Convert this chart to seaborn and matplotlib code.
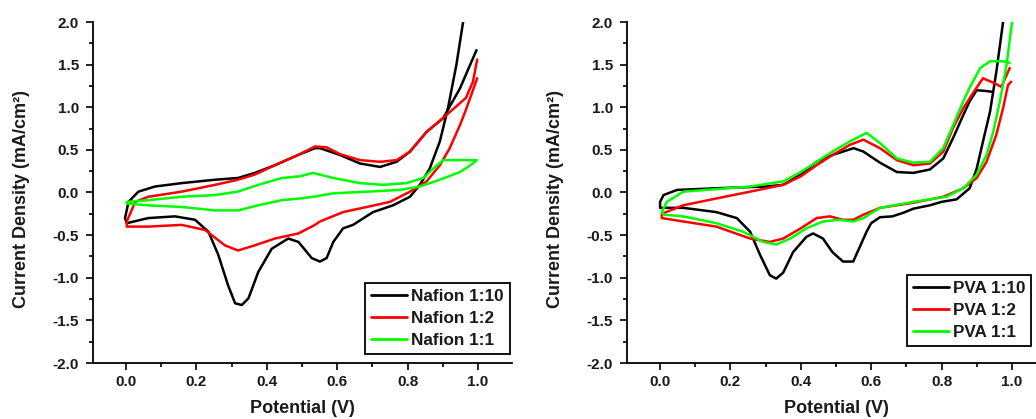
import matplotlib
matplotlib.use("Agg")
import matplotlib.pyplot as plt
from matplotlib.lines import Line2D
from matplotlib.ticker import MultipleLocator, FormatStrFormatter
import seaborn as sns
import pandas as pd

# ---------------- data ----------------
nafion_labels = ["Nafion 1:10", "Nafion 1:2", "Nafion 1:1"]
pva_labels = ["PVA 1:10", "PVA 1:2", "PVA 1:1"]
series_colors = ["#000000", "#ff0000", "#00ff00"]

nafion_1_10_v = [0.962, 0.958, 0.939, 0.915, 0.892, 0.863, 0.835, 0.807, 0.759, 0.702, 0.645, 0.617, 0.589, 0.570,
                 0.551, 0.528, 0.490, 0.461, 0.414, 0.376, 0.348, 0.329, 0.310, 0.290, 0.262, 0.234, 0.196, 0.139,
                 0.063, 0.002, -0.003, 0.007, 0.035, 0.082, 0.158, 0.253, 0.318, 0.366, 0.423, 0.489, 0.537, 0.551,
                 0.608, 0.665, 0.722, 0.769, 0.807, 0.854, 0.901, 0.949, 0.996]
nafion_1_10_j = [2.10, 2.00, 1.50, 0.99, 0.60, 0.28, 0.09, -0.05, -0.15, -0.23, -0.38, -0.42, -0.58, -0.77,
                 -0.81, -0.77, -0.58, -0.54, -0.66, -0.93, -1.24, -1.32, -1.30, -1.09, -0.73, -0.46, -0.32, -0.28,
                 -0.30, -0.36, -0.30, -0.11, 0.01, 0.07, 0.11, 0.15, 0.17, 0.23, 0.32, 0.44, 0.52, 0.52,
                 0.44, 0.34, 0.30, 0.36, 0.48, 0.71, 0.87, 1.22, 1.67]

nafion_1_2_v = [0.998, 0.986, 0.966, 0.949, 0.920, 0.892, 0.854, 0.807, 0.750, 0.684, 0.617, 0.551, 0.537, 0.490,
                0.423, 0.366, 0.318, 0.281, 0.225, 0.158, 0.063, 0.002, 0.002, 0.026, 0.063, 0.158, 0.253, 0.318,
                0.366, 0.423, 0.489, 0.537, 0.570, 0.608, 0.665, 0.722, 0.769, 0.807, 0.854, 0.911, 0.966, 0.986,
                0.998]
nafion_1_2_j = [1.34, 1.20, 0.97, 0.79, 0.52, 0.32, 0.13, 0.01, -0.11, -0.17, -0.23, -0.34, -0.38, -0.48,
                -0.54, -0.62, -0.68, -0.62, -0.44, -0.38, -0.40, -0.40, -0.34, -0.11, -0.05, 0.01, 0.09, 0.15,
                0.21, 0.32, 0.44, 0.54, 0.53, 0.45, 0.38, 0.36, 0.38, 0.48, 0.71, 0.91, 1.11, 1.30,
                1.56]

nafion_1_1_v = [0.996, 0.986, 0.949, 0.892, 0.835, 0.778, 0.684, 0.589, 0.532, 0.494, 0.443, 0.376, 0.318, 0.253,
                0.158, 0.063, 0.002, 0.002, 0.063, 0.158, 0.253, 0.318, 0.376, 0.443, 0.494, 0.532, 0.589, 0.665,
                0.731, 0.797, 0.845, 0.873, 0.901, 0.939, 0.996]
nafion_1_1_j = [0.38, 0.34, 0.24, 0.15, 0.07, 0.03, 0.01, -0.01, -0.05, -0.07, -0.09, -0.15, -0.21, -0.21,
                -0.17, -0.15, -0.13, -0.11, -0.09, -0.05, -0.03, 0.01, 0.09, 0.17, 0.19, 0.23, 0.17, 0.11,
                0.09, 0.11, 0.17, 0.28, 0.38, 0.38, 0.38]

pva_1_10_v = [0.980, 0.975, 0.956, 0.938, 0.918, 0.900, 0.880, 0.843, 0.800, 0.767, 0.720, 0.690, 0.660, 0.625,
              0.600, 0.587, 0.549, 0.520, 0.490, 0.463, 0.435, 0.416, 0.378, 0.350, 0.330, 0.312, 0.284, 0.256,
              0.218, 0.160, 0.066, 0.000, 0.000, 0.010, 0.048, 0.160, 0.300, 0.350, 0.400, 0.445, 0.490, 0.550,
              0.578, 0.625, 0.673, 0.720, 0.767, 0.805, 0.833, 0.862, 0.880, 0.900, 0.928, 0.946]
pva_1_10_j = [2.15, 2.00, 1.42, 0.95, 0.60, 0.28, 0.05, -0.08, -0.11, -0.15, -0.19, -0.24, -0.28, -0.29,
              -0.36, -0.46, -0.81, -0.81, -0.70, -0.54, -0.48, -0.52, -0.70, -0.94, -1.01, -0.97, -0.73, -0.46,
              -0.30, -0.23, -0.18, -0.18, -0.11, -0.03, 0.03, 0.05, 0.07, 0.09, 0.21, 0.36, 0.44, 0.52,
              0.48, 0.35, 0.24, 0.23, 0.27, 0.40, 0.64, 0.91, 1.07, 1.20, 1.19, 1.18]

pva_1_2_v = [0.998, 0.989, 0.975, 0.956, 0.928, 0.900, 0.862, 0.805, 0.720, 0.625, 0.578, 0.549, 0.520, 0.483,
             0.445, 0.400, 0.350, 0.312, 0.256, 0.160, 0.066, 0.005, 0.005, 0.066, 0.160, 0.256, 0.350, 0.400,
             0.445, 0.490, 0.540, 0.578, 0.625, 0.673, 0.720, 0.767, 0.805, 0.833, 0.862, 0.890, 0.918, 0.946,
             0.970, 0.994]
pva_1_2_j = [1.30, 1.26, 0.99, 0.68, 0.36, 0.17, 0.05, -0.05, -0.12, -0.18, -0.26, -0.32, -0.32, -0.28,
             -0.30, -0.42, -0.54, -0.58, -0.54, -0.40, -0.34, -0.30, -0.25, -0.15, -0.07, 0.01, 0.09, 0.19,
             0.32, 0.44, 0.56, 0.62, 0.52, 0.38, 0.32, 0.34, 0.48, 0.76, 0.99, 1.17, 1.34, 1.29,
             1.24, 1.46]

pva_1_1_v = [1.002, 0.985, 0.966, 0.947, 0.928, 0.900, 0.862, 0.814, 0.720, 0.625, 0.578, 0.549, 0.510, 0.463,
             0.416, 0.370, 0.330, 0.293, 0.236, 0.160, 0.066, 0.010, 0.005, 0.019, 0.066, 0.256, 0.350, 0.400,
             0.445, 0.490, 0.540, 0.587, 0.625, 0.673, 0.720, 0.767, 0.805, 0.833, 0.862, 0.880, 0.910, 0.938,
             0.975, 0.994]
pva_1_1_j = [2.05, 1.50, 1.07, 0.71, 0.44, 0.21, 0.05, -0.05, -0.11, -0.18, -0.30, -0.34, -0.32, -0.34,
             -0.42, -0.54, -0.61, -0.58, -0.46, -0.36, -0.28, -0.26, -0.23, -0.11, 0.01, 0.07, 0.13, 0.24,
             0.36, 0.48, 0.60, 0.70, 0.58, 0.40, 0.35, 0.36, 0.52, 0.79, 1.07, 1.23, 1.46, 1.54,
             1.54, 1.52]

x_ticks_step = 0.2
y_ticks_step = 0.5


def build_frame(labels, vs, js):
    rows = []
    for lab, v, j in zip(labels, vs, js):
        for k, (a, b) in enumerate(zip(v, j)):
            rows.append({"Potential": a, "J": b, "Sample": lab, "idx": k})
    return pd.DataFrame(rows)


df_nafion = build_frame(nafion_labels, [nafion_1_10_v, nafion_1_2_v, nafion_1_1_v],
                        [nafion_1_10_j, nafion_1_2_j, nafion_1_1_j])
df_pva = build_frame(pva_labels, [pva_1_10_v, pva_1_2_v, pva_1_1_v],
                     [pva_1_10_j, pva_1_2_j, pva_1_1_j])

# ---------------- styling ----------------
sns.set_theme(style="ticks")
plt.rcParams["font.family"] = ["Liberation Sans", "DejaVu Sans"]
plt.rcParams["font.weight"] = "bold"
plt.rcParams["axes.labelweight"] = "bold"
plt.rcParams["axes.unicode_minus"] = False

W, H = 1036, 419
fig = plt.figure(figsize=(W / 100, H / 100), dpi=100)
fig.patch.set_facecolor("white")
ax1 = fig.add_axes([93 / W, 56 / H, 419 / W, 341 / H])
ax2 = fig.add_axes([627 / W, 56 / H, 419 / W, 341 / H])

panels = [
    (ax1, df_nafion, nafion_labels, dict(loc="lower right", bbox_to_anchor=(0.995, 0.026))),
    (ax2, df_pva, pva_labels, dict(loc="lower left", bbox_to_anchor=(0.668, 0.05))),
]

for ax, df, labels, leg_kw in panels:
    ax.set_facecolor("white")
    sns.lineplot(data=df, x="Potential", y="J", hue="Sample", hue_order=labels,
                 palette=series_colors, sort=False, estimator=None, linewidth=1.8,
                 ax=ax, legend=False)
    for ln in ax.lines:
        ln.set_solid_joinstyle("round")
        ln.set_solid_capstyle("round")
    ax.set_xlim(-0.094, 1.097)
    ax.set_ylim(-2.0, 2.0)
    ax.xaxis.set_major_locator(MultipleLocator(x_ticks_step))
    ax.xaxis.set_minor_locator(MultipleLocator(x_ticks_step / 2))
    ax.yaxis.set_major_locator(MultipleLocator(y_ticks_step))
    ax.yaxis.set_minor_locator(MultipleLocator(y_ticks_step / 2))
    ax.xaxis.set_major_formatter(FormatStrFormatter("%.1f"))
    ax.yaxis.set_major_formatter(FormatStrFormatter("%.1f"))
    sns.despine(ax=ax)
    for s in ("left", "bottom"):
        ax.spines[s].set_linewidth(1.3)
        ax.spines[s].set_color("black")
    ax.tick_params(which="major", direction="out", length=5, width=1.2, colors="black",
                   labelsize=11)
    ax.tick_params(which="minor", direction="out", length=3, width=1.2, colors="black")
    ax.tick_params(axis="y", which="major", pad=5)
    ax.tick_params(axis="x", which="major", pad=3.5)
    for lab in ax.get_xticklabels() + ax.get_yticklabels():
        lab.set_fontweight("bold")
        lab.set_color("#1a1a1a")
    ax.set_xlabel("Potential (V)", fontsize=13, fontweight="bold", color="#1a1a1a")
    ax.set_ylabel("Current Density (mA/cm²)", fontsize=13, fontweight="bold", color="#1a1a1a")
    ax.xaxis.set_label_coords(0.5, -0.108)
    ax.yaxis.set_label_coords(-0.15, 0.48)

    handles = [Line2D([], [], color=c, linewidth=2.0) for c in series_colors]
    leg = ax.legend(handles, labels, frameon=True, fancybox=False, framealpha=1,
                    edgecolor="black", fontsize=12.3, borderpad=0.35, labelspacing=0.42,
                    handlelength=2.1, handletextpad=0.25, borderaxespad=0.0, **leg_kw)
    leg.get_frame().set_linewidth(1.3)
    for t in leg.get_texts():
        t.set_fontweight("bold")
        t.set_color("#1a1a1a")

fig.savefig("out.png", dpi=100, facecolor="white")
